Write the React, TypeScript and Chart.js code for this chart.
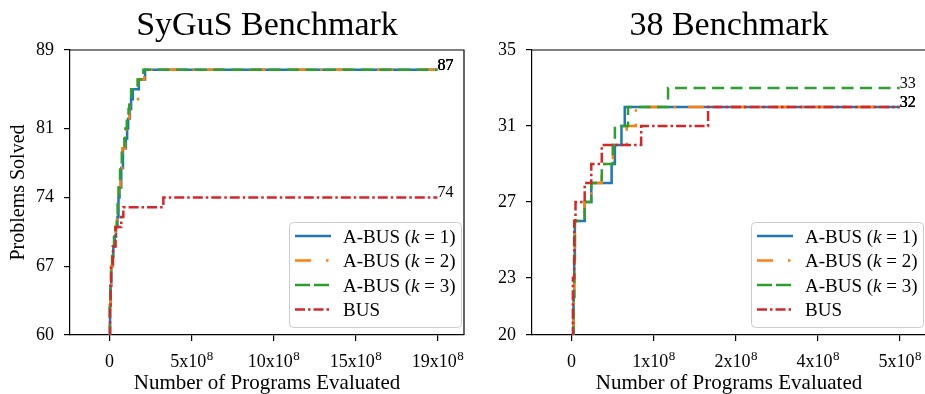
import React, { useEffect, useRef } from 'react';
import { Chart, registerables } from 'chart.js';

Chart.register(...registerables);

const FONT = '"Liberation Serif", "Times New Roman", Times, serif';

// ---------------- data ----------------
const seriesLabels = ['A-BUS (k = 1)', 'A-BUS (k = 2)', 'A-BUS (k = 3)', 'BUS'];

// SyGuS Benchmark (x in units of 1e8 programs)
const sygusA1X = [0, 0.03, 0.06, 0.1, 0.17, 0.22, 0.3, 0.38, 0.46, 0.52, 0.58, 0.68, 0.78, 0.95, 1.02, 1.08, 1.18, 1.25, 1.35, 1.7, 2.06, 19];
const sygusA1Y = [58, 63, 65, 67, 68, 69, 70, 71, 72, 74, 75, 77, 79, 80, 81, 82, 83, 84, 85, 86, 87, 87];
const sygusA2X = [0, 0.02, 0.05, 0.09, 0.15, 0.21, 0.27, 0.36, 0.43, 0.49, 0.55, 0.63, 0.74, 0.9, 0.97, 1.05, 1.15, 1.65, 2.02, 19];
const sygusA2Y = [58, 63, 65, 67, 68, 69, 70, 71, 72, 74, 75, 77, 79, 80, 81, 82, 84, 86, 87, 87];
const sygusA3X = [0, 0.02, 0.05, 0.09, 0.15, 0.2, 0.26, 0.35, 0.42, 0.47, 0.52, 0.61, 0.71, 0.86, 0.92, 1.0, 1.1, 1.15, 1.25, 1.63, 1.96, 19];
const sygusA3Y = [58, 63, 65, 67, 68, 69, 70, 71, 72, 74, 75, 77, 79, 80, 81, 82, 83, 84, 85, 86, 87, 87];
const sygusBusX = [0, 0.03, 0.06, 0.09, 0.2, 0.35, 0.68, 0.8, 3.12, 19];
const sygusBusY = [58, 63, 65, 67, 69, 71, 72, 73, 74, 74];

const sygusXTicks = [0, 4.75, 9.5, 14.25, 19];
const sygusXTickLabels = ['0', '5x10^8', '10x10^8', '15x10^8', '19x10^8'];
const sygusYTicks = [60, 67, 74, 81, 89];

// 38 Benchmark (x in units of 1e8 programs)
const b38A1X = [0, 0.03, 0.04, 0.05, 0.2, 0.3, 0.61, 0.66, 0.76, 0.81, 5];
const b38A1Y = [18, 22, 24, 26, 27, 28, 29, 30, 31, 32, 32];
const b38A2X = [0, 0.03, 0.04, 0.05, 0.2, 0.3, 0.46, 0.63, 0.84, 0.98, 5];
const b38A2Y = [18, 22, 24, 26, 27, 28, 29, 30, 31, 32, 32];
const b38A3X = [0, 0.03, 0.04, 0.05, 0.2, 0.3, 0.46, 0.63, 0.66, 0.86, 1.47, 5];
const b38A3Y = [18, 22, 24, 26, 27, 28, 29, 30, 31, 32, 33, 33];
const b38BusX = [0, 0.02, 0.04, 0.06, 0.2, 0.3, 0.46, 1.06, 2.08, 5];
const b38BusY = [18, 23, 26, 27, 28, 29, 30, 31, 32, 32];

const b38XTicks = [0, 1.25, 2.5, 3.75, 5];
const b38XTickLabels = ['0', '1x10^8', '2x10^8', '4x10^8', '5x10^8'];
const b38YTicks = [20, 23, 27, 31, 35];

// ---------------- styles ----------------
const COLORS = ['#1f77b4', '#ff7f0e', '#2ca02c', '#d62728'];
const LINE_DASH = [[], [16, 12, 2.5, 12], [12, 6.5], [10, 3, 2.5, 3]];
const LEGEND_DASH = [[], [16, 15, 2.5, 15], [15, 4], [10, 3, 2.5, 3]];
const W = 473;
const H = 394;

function drawRich(ctx: CanvasRenderingContext2D, text: string, x: number, y: number, size: number) {
  const parts = text.split(/(\bk\b)/);
  let cx = x;
  for (const p of parts) {
    if (!p) continue;
    ctx.font = (p === 'k' ? 'italic ' : '') + `${size}px ${FONT}`;
    ctx.fillText(p, cx, y);
    cx += ctx.measureText(p).width;
  }
}

type PanelProps = {
  title: string;
  left: number;
  xs: number[][];
  ys: number[][];
  xMin: number;
  xMax: number;
  yMin: number;
  yMax: number;
  xTicks: number[];
  xTickLabels: string[];
  yTicks: number[];
  yTitle?: string;
};

function Panel(p: PanelProps) {
  const ref = useRef<HTMLCanvasElement>(null);
  useEffect(() => {
    const canvas = ref.current!;
    const decor = {
      id: 'decor',
      afterDatasetsDraw(chart: any) {
        const { ctx, scales } = chart;
        ctx.save();
        ctx.fillStyle = '#000';
        ctx.font = `16px ${FONT}`;
        ctx.textAlign = 'left';
        ctx.textBaseline = 'alphabetic';
        p.xs.forEach((xs, i) => {
          const ys = p.ys[i];
          const lx = scales.x.getPixelForValue(xs[xs.length - 1]);
          const ly = scales.y.getPixelForValue(ys[ys.length - 1]);
          ctx.fillText(String(ys[ys.length - 1]), lx, ly);
        });
        ctx.restore();
      },
      afterDraw(chart: any) {
        const { ctx, chartArea: ca, scales } = chart;
        ctx.save();
        // top & right spines
        ctx.strokeStyle = '#000';
        ctx.lineWidth = 1.2;
        ctx.beginPath();
        ctx.moveTo(ca.left, ca.top);
        ctx.lineTo(ca.right, ca.top);
        ctx.lineTo(ca.right, ca.bottom);
        ctx.stroke();

        ctx.fillStyle = '#000';
        // title
        ctx.font = `34px ${FONT}`;
        ctx.textAlign = 'center';
        ctx.textBaseline = 'alphabetic';
        ctx.fillText(p.title, (ca.left + ca.right) / 2, 35);

        // x tick labels with superscripts
        p.xTicks.forEach((v, i) => {
          const lab = p.xTickLabels[i];
          const [base, sup] = lab.split('^');
          const px = scales.x.getPixelForValue(v);
          ctx.textAlign = 'left';
          ctx.font = `18px ${FONT}`;
          const wb = ctx.measureText(base).width;
          ctx.font = `13px ${FONT}`;
          const ws = sup ? ctx.measureText(sup).width : 0;
          const x0 = px - (wb + ws) / 2;
          ctx.font = `18px ${FONT}`;
          ctx.fillText(base, x0, 367);
          if (sup) {
            ctx.font = `13px ${FONT}`;
            ctx.fillText(sup, x0 + wb + 0.5, 360);
          }
        });

        // x title
        ctx.font = `21px ${FONT}`;
        ctx.textAlign = 'center';
        ctx.fillText('Number of Programs Evaluated', (ca.left + ca.right) / 2, 389);

        // y title
        if (p.yTitle) {
          ctx.save();
          ctx.font = `20px ${FONT}`;
          ctx.translate(19, (ca.top + ca.bottom) / 2);
          ctx.rotate(-Math.PI / 2);
          ctx.textBaseline = 'middle';
          ctx.fillText(p.yTitle, 0, 0);
          ctx.restore();
        }

        // legend
        const bw = 172;
        const bh = 105;
        const bx = ca.right - 3 - bw;
        const by = ca.bottom - 8 - bh;
        ctx.beginPath();
        ctx.roundRect(bx + 0.5, by + 0.5, bw, bh, 4);
        ctx.fillStyle = 'rgba(255,255,255,0.8)';
        ctx.fill();
        ctx.strokeStyle = '#cccccc';
        ctx.lineWidth = 1;
        ctx.stroke();
        const rows = [14, 38.5, 63, 87.5];
        seriesLabels.forEach((lab, i) => {
          const cy = by + rows[i];
          ctx.save();
          ctx.strokeStyle = COLORS[i];
          ctx.lineWidth = 2.5;
          ctx.lineCap = 'butt';
          ctx.setLineDash(LEGEND_DASH[i]);
          ctx.beginPath();
          ctx.moveTo(bx + 6, cy);
          ctx.lineTo(bx + 42, cy);
          ctx.stroke();
          ctx.restore();
          ctx.fillStyle = '#000';
          ctx.textAlign = 'left';
          ctx.textBaseline = 'alphabetic';
          drawRich(ctx, lab, bx + 54, cy + 6.5, 19);
        });
        ctx.restore();
      },
    };

    const chart = new Chart(canvas, {
      type: 'line',
      data: {
        datasets: p.xs.map((xs, i) => ({
          label: seriesLabels[i],
          data: xs.map((x, j) => ({ x, y: p.ys[i][j] })),
          borderColor: COLORS[i],
          backgroundColor: COLORS[i],
          borderWidth: 2.5,
          borderDash: LINE_DASH[i],
          borderCapStyle: 'butt',
          pointRadius: 0,
          stepped: 'before',
          fill: false,
          tension: 0,
          order: 3 - i,
        })),
      } as any,
      options: {
        responsive: false,
        animation: false,
        events: [],
        layout: { padding: { top: 50, left: 0, right: 9, bottom: 0 } },
        plugins: {
          legend: { display: false },
          tooltip: { enabled: false },
          title: { display: false },
        },
        scales: {
          x: {
            type: 'linear',
            min: p.xMin,
            max: p.xMax,
            afterBuildTicks: (s: any) => {
              s.ticks = p.xTicks.map((v) => ({ value: v }));
            },
            afterFit: (s: any) => {
              s.height = 59;
            },
            ticks: { autoSkip: false, callback: () => '', font: { family: FONT, size: 18 }, color: '#000' },
            grid: { drawOnChartArea: false, drawTicks: true, tickLength: 6, color: '#000', lineWidth: 1.2 },
            border: { display: true, color: '#000', width: 1.2 },
          },
          y: {
            type: 'linear',
            min: p.yMin,
            max: p.yMax,
            afterBuildTicks: (s: any) => {
              s.ticks = p.yTicks.map((v) => ({ value: v }));
            },
            afterFit: (s: any) => {
              s.width = 70;
            },
            ticks: { autoSkip: false, padding: 10, font: { family: FONT, size: 18 }, color: '#000' },
            grid: { drawOnChartArea: false, drawTicks: true, tickLength: 6, color: '#000', lineWidth: 1.2 },
            border: { display: true, color: '#000', width: 1.2 },
          },
        },
      } as any,
      plugins: [decor],
    });
    return () => chart.destroy();
  }, []);
  return (
    <canvas
      ref={ref}
      width={W}
      height={H}
      style={{ position: 'absolute', left: p.left, top: 0, width: W, height: H, display: 'block' }}
    />
  );
}

export default function App() {
  return (
    <div
      style={{
        position: 'absolute',
        left: 0,
        top: 0,
        width: 925,
        height: 394,
        overflow: 'hidden',
        background: '#fff',
      }}
    >
      <Panel
        title="SyGuS Benchmark"
        left={0}
        xs={[sygusA1X, sygusA2X, sygusA3X, sygusBusX]}
        ys={[sygusA1Y, sygusA2Y, sygusA3Y, sygusBusY]}
        xMin={-2.29}
        xMax={20.54}
        yMin={60}
        yMax={89}
        xTicks={sygusXTicks}
        xTickLabels={sygusXTickLabels}
        yTicks={sygusYTicks}
        yTitle="Problems Solved"
      />
      <Panel
        title="38 Benchmark"
        left={462}
        xs={[b38A1X, b38A2X, b38A3X, b38BusX]}
        ys={[b38A1Y, b38A2Y, b38A3Y, b38BusY]}
        xMin={-0.603}
        xMax={5.4}
        yMin={20}
        yMax={35}
        xTicks={b38XTicks}
        xTickLabels={b38XTickLabels}
        yTicks={b38YTicks}
      />
    </div>
  );
}
